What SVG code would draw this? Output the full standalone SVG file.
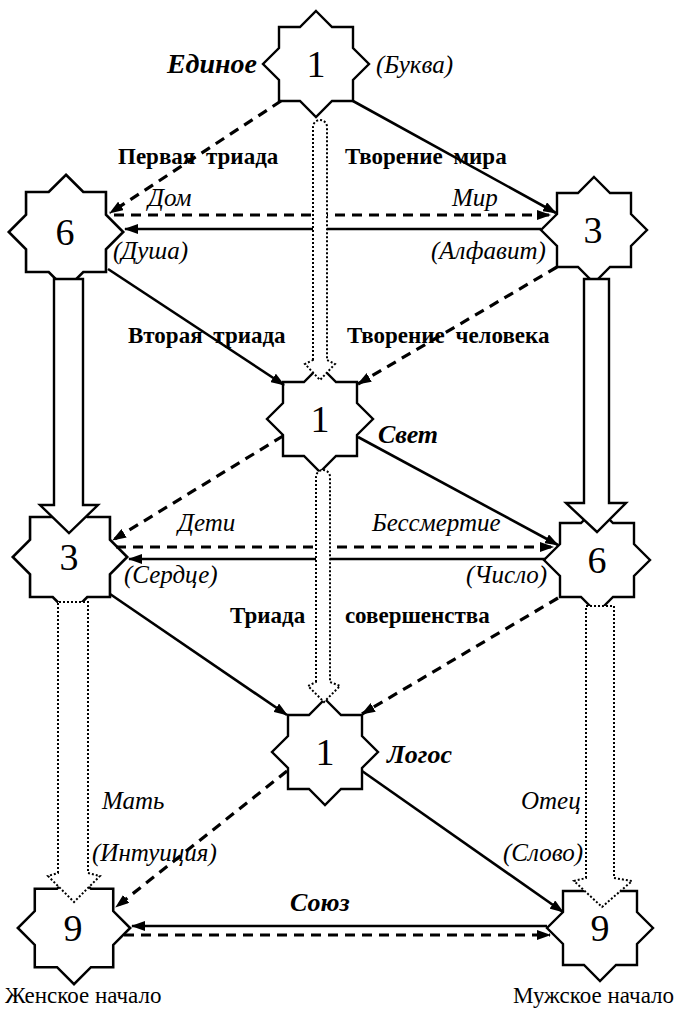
<svg xmlns="http://www.w3.org/2000/svg" width="682" height="1010" viewBox="0 0 682 1010" font-family="'Liberation Serif', 'DejaVu Serif', serif">
<defs>
<style>
text{font-family:"Liberation Serif","DejaVu Serif",serif;fill:#000}
.star{fill:#fff;stroke:#000;stroke-width:2.4;stroke-linejoin:miter}
.num{font-size:38px;text-anchor:middle}
.sol{fill:none;stroke:#000;stroke-width:2.6}
.dash{fill:none;stroke:#000;stroke-width:3.2;stroke-dasharray:10 7}
.hol{fill:#fff;stroke:#000;stroke-width:2.4;stroke-linejoin:miter}
.dot{fill:#fff;stroke:#000;stroke-width:2;stroke-dasharray:2 2}
.it{font-style:italic;font-size:25px}
.bi{font-style:italic;font-weight:bold;font-size:26px}
.b{font-weight:bold;font-size:23px}
.r{font-size:23px}
</style>
<path id="star" d="M0,-53 L16,-37 L37,-37 L37,-16 L53,0 L37,16 L37,37 L16,37 L0,53 L-16,37 L-37,37 L-37,16 L-53,0 L-37,-16 L-37,-37 L-16,-37 Z"/>
<marker id="ah" markerUnits="userSpaceOnUse" markerWidth="14" markerHeight="10" refX="13" refY="5" orient="auto">
<path d="M0,0 L14,5 L0,10 Z" fill="#000"/>
</marker>
</defs>
<rect width="682" height="1010" fill="#fff"/>

<g id="nodes">
<g id="n-top"><use href="#star" class="star" transform="translate(316,64)"/><text class="num" x="316" y="77">1</text></g>
<g id="n-6-left"><use href="#star" class="star" transform="translate(66,232) scale(1.08)"/><text class="num" x="65" y="245">6</text></g>
<g id="n-3-right"><use href="#star" class="star" transform="translate(594,230)"/><text class="num" x="593" y="243">3</text></g>
<g id="n-svet"><use href="#star" class="star" transform="translate(320,419)"/><text class="num" x="320" y="432">1</text></g>
<g id="n-3-left"><use href="#star" class="star" transform="translate(70,557) scale(1.08)"/><text class="num" x="69" y="570">3</text></g>
<g id="n-6-right"><use href="#star" class="star" transform="translate(597,560)"/><text class="num" x="597" y="573">6</text></g>
<g id="n-logos"><use href="#star" class="star" transform="translate(325,752)"/><text class="num" x="325" y="765">1</text></g>
<g id="n-9-left"><use href="#star" class="star" transform="translate(74,928) scale(1.06)"/><text class="num" x="73" y="941">9</text></g>
<g id="n-9-right"><use href="#star" class="star" transform="translate(600,928)"/><text class="num" x="600" y="941">9</text></g>
</g>

<g id="connectors">
<line class="dash" x1="281" y1="101" x2="110" y2="213" marker-end="url(#ah)"/>
<line class="sol" x1="353" y1="101" x2="556" y2="213" marker-end="url(#ah)"/>
<line class="dash" x1="114" y1="215" x2="550" y2="215" marker-end="url(#ah)"/>
<line class="sol" x1="541" y1="229" x2="125" y2="229" marker-end="url(#ah)"/>
<line class="sol" x1="108" y1="269" x2="284" y2="385" marker-end="url(#ah)"/>
<line class="dash" x1="557" y1="267" x2="358" y2="384" marker-end="url(#ah)"/>
<line class="dash" x1="283" y1="436" x2="113" y2="540" marker-end="url(#ah)"/>
<line class="sol" x1="358" y1="437" x2="558" y2="545" marker-end="url(#ah)"/>
<line class="dash" x1="116" y1="547" x2="553" y2="547" marker-end="url(#ah)"/>
<line class="sol" x1="546" y1="559" x2="129" y2="559" marker-end="url(#ah)"/>
<line class="sol" x1="110" y1="594" x2="287" y2="715" marker-end="url(#ah)"/>
<line class="dash" x1="558" y1="598" x2="362" y2="714" marker-end="url(#ah)"/>
<line class="dash" x1="287" y1="771" x2="116" y2="907" marker-end="url(#ah)"/>
<line class="sol" x1="362" y1="771" x2="563" y2="912" marker-end="url(#ah)"/>
<line class="sol" x1="547" y1="926" x2="132" y2="926" marker-end="url(#ah)"/>
<line class="dash" x1="124" y1="935" x2="550" y2="935" marker-end="url(#ah)"/>
<path class="hol" d="M54,279 L54,505 L40,505 L69,533 L98,505 L83,505 L83,279 Z"/>
<path class="hol" d="M584,279 L584,503 L566,503 L597,532 L626,503 L609,503 L609,279 Z"/>
<path class="dot" d="M313,360 L313,127 A7,7 0 0 1 327,127 L327,360 L335,364 L320,380 L305,364 Z"/>
<path class="dot" d="M316,682 L316,477 A7,7 0 0 1 330,477 L330,682 L340,686 L324,702 L308,686 Z"/>
<path class="dot" d="M58,873 L58,602 L88,602 L88,873 L100,876 L74,902 L48,876 Z"/>
<path class="dot" d="M586,878 L586,606 L614,606 L614,878 L632,881 L602,907 L574,881 Z"/>
</g>

<g id="labels">
<text class="bi" x="257" y="73" text-anchor="end" style="font-size:28px">Единое</text>
<text class="it" x="376" y="73">(Буква)</text>
<text class="b" x="118" y="164" word-spacing="5">Первая триада</text>
<text class="b" x="345" y="164" word-spacing="5">Творение мира</text>
<text class="it" x="148" y="206">Дом</text>
<text class="it" x="452" y="206">Мир</text>
<text class="it" x="113" y="259">(Душа)</text>
<text class="it" x="431" y="259">(Алфавит)</text>
<text class="b" x="128" y="343" word-spacing="5">Вторая триада</text>
<text class="b" x="347" y="343" word-spacing="5">Творение человека</text>
<text class="bi" x="378" y="443">Свет</text>
<text class="it" x="178" y="531">Дети</text>
<text class="it" x="372" y="531">Бессмертие</text>
<text class="it" x="124" y="583">(Сердце)</text>
<text class="it" x="466" y="583">(Число)</text>
<text class="b" x="230" y="623" word-spacing="34">Триада совершенства</text>
<text class="bi" x="387" y="763">Логос</text>
<text class="it" x="102" y="809">Мать</text>
<text class="it" x="521" y="809">Отец</text>
<text class="it" x="92" y="861">(Интуиция)</text>
<text class="it" x="503" y="861">(Слово)</text>
<text class="bi" x="290" y="911">Союз</text>
<text class="r" x="5" y="1003">Женское начало</text>
<text class="r" x="513" y="1003">Мужское начало</text>
</g>
</svg>
